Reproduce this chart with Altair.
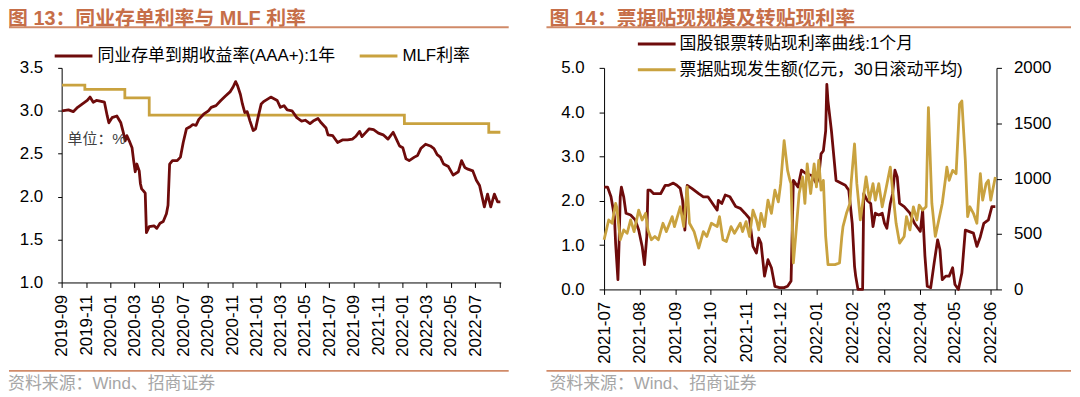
import altair as alt
import pandas as pd

# ---------------- Left panel data (图13) ----------------
ncd_dates = [
    "2019-09-02", "2019-09-18", "2019-09-30", "2019-10-11", "2019-10-23", "2019-11-04", "2019-11-11",
    "2019-11-19", "2019-11-27", "2019-12-09", "2019-12-17", "2019-12-24", "2019-12-28",
    "2020-01-05", "2020-01-17", "2020-01-27", "2020-02-01", "2020-02-07", "2020-02-11", "2020-02-17",
    "2020-02-24", "2020-02-28", "2020-03-03", "2020-03-07", "2020-03-13", "2020-03-16", "2020-03-19",
    "2020-03-23", "2020-03-28", "2020-03-31",
    "2020-04-07", "2020-04-19", "2020-04-26", "2020-05-04", "2020-05-12", "2020-05-20", "2020-05-24",
    "2020-05-28", "2020-06-04", "2020-06-16", "2020-06-24", "2020-07-01", "2020-07-09", "2020-07-17",
    "2020-07-25", "2020-08-02", "2020-08-09", "2020-08-21", "2020-09-02", "2020-09-09", "2020-09-21",
    "2020-10-03", "2020-10-14", "2020-10-26", "2020-11-03", "2020-11-09", "2020-11-14", "2020-11-21",
    "2020-11-26", "2020-12-02", "2020-12-08", "2020-12-15", "2020-12-23", "2020-12-29",
    "2021-01-04", "2021-01-12", "2021-01-19", "2021-02-05", "2021-02-21", "2021-03-01", "2021-03-10",
    "2021-03-18", "2021-03-30", "2021-04-11", "2021-04-23", "2021-05-02", "2021-05-14", "2021-05-22",
    "2021-06-03", "2021-06-11", "2021-06-23", "2021-06-28", "2021-07-10", "2021-07-22", "2021-08-03",
    "2021-08-16", "2021-08-28", "2021-09-05", "2021-09-15", "2021-09-21", "2021-09-29", "2021-10-09",
    "2021-10-20", "2021-11-01", "2021-11-13", "2021-11-25", "2021-12-08", "2021-12-16", "2021-12-24",
    "2022-01-01", "2022-01-09", "2022-01-17", "2022-01-30", "2022-02-07", "2022-02-15", "2022-02-27",
    "2022-03-11", "2022-03-20", "2022-03-28", "2022-04-05", "2022-04-13", "2022-04-25", "2022-05-07",
    "2022-05-20", "2022-05-28", "2022-06-05", "2022-06-13", "2022-06-25", "2022-07-04", "2022-07-12",
    "2022-07-24", "2022-08-01", "2022-08-09", "2022-08-18", "2022-08-26", "2022-09-02",
]
ncd_values = [
    3.00, 3.01, 2.99, 3.04, 3.08, 3.12, 3.16, 3.10, 3.12, 3.11, 3.10, 2.94, 2.86,
    2.92, 2.94, 2.86, 2.77, 2.65, 2.71, 2.65, 2.57, 2.42, 2.29, 2.38, 2.30, 2.15, 2.09, 2.07, 2.04, 1.58,
    1.65, 1.66, 1.63, 1.69, 1.71, 1.80, 1.90, 2.38, 2.42, 2.42, 2.46, 2.63, 2.79, 2.81, 2.84, 2.83, 2.90,
    2.96, 3.00, 3.04, 3.06, 3.12, 3.17, 3.22, 3.28, 3.34, 3.29, 3.19, 3.08, 2.98, 2.99, 2.88, 2.77, 2.79,
    2.92, 3.08, 3.11, 3.16, 3.12, 3.04, 3.06, 3.01, 3.00, 2.92, 2.88, 2.89, 2.85, 2.88, 2.91, 2.86, 2.80,
    2.72, 2.71, 2.63, 2.66, 2.66, 2.67, 2.70, 2.76, 2.70, 2.74, 2.79, 2.78, 2.74, 2.72, 2.67, 2.75, 2.67, 2.59,
    2.57, 2.44, 2.42, 2.46, 2.48, 2.56, 2.61, 2.59, 2.56, 2.49, 2.46, 2.38, 2.35, 2.25, 2.29, 2.42, 2.34,
    2.32, 2.30, 2.19, 2.13, 1.88, 2.03, 1.88, 2.03, 1.94, 1.94,
]
mlf_dates = ["2019-09-02", "2019-10-29", "2020-02-06", "2020-04-07", "2022-01-05", "2022-08-04", "2022-09-02"]
mlf_values = [3.30, 3.25, 3.15, 2.95, 2.85, 2.75, 2.75]
left_ticks = ["2019-09", "2019-11", "2020-01", "2020-03", "2020-05", "2020-07", "2020-09", "2020-11",
              "2021-01", "2021-03", "2021-05", "2021-07", "2021-09", "2021-11", "2022-01", "2022-03",
              "2022-05", "2022-07", "2022-09"]
left_y_ticks = [1.0, 1.5, 2.0, 2.5, 3.0, 3.5]

# ---------------- Right panel data (图14) ----------------
rate_dates = [
    "2021-07-01", "2021-07-04", "2021-07-07", "2021-07-10", "2021-07-11", "2021-07-13", "2021-07-14",
    "2021-07-15", "2021-07-16", "2021-07-18", "2021-07-20", "2021-07-24", "2021-07-28", "2021-07-31",
    "2021-08-03", "2021-08-05", "2021-08-07", "2021-08-08", "2021-08-10", "2021-08-13", "2021-08-19",
    "2021-08-23", "2021-08-26", "2021-08-30", "2021-09-02", "2021-09-05", "2021-09-07", "2021-09-09",
    "2021-09-11", "2021-09-15", "2021-09-21", "2021-09-25", "2021-09-29", "2021-10-04", "2021-10-07",
    "2021-10-08", "2021-10-11", "2021-10-14", "2021-10-18", "2021-10-23", "2021-10-27", "2021-10-31",
    "2021-11-04", "2021-11-07", "2021-11-10", "2021-11-12", "2021-11-14", "2021-11-17", "2021-11-20",
    "2021-11-23", "2021-11-26", "2021-11-30", "2021-12-04", "2021-12-07", "2021-12-10", "2021-12-12",
    "2021-12-16", "2021-12-19", "2021-12-23", "2021-12-28", "2022-01-01", "2022-01-03", "2022-01-05",
    "2022-01-07", "2022-01-09", "2022-01-10", "2022-01-11", "2022-01-14", "2022-01-18", "2022-01-23",
    "2022-01-26", "2022-01-29", "2022-02-01", "2022-02-03", "2022-02-04", "2022-02-06", "2022-02-10",
    "2022-02-11", "2022-02-14", "2022-02-17", "2022-02-19", "2022-02-21", "2022-02-24", "2022-02-27",
    "2022-03-01", "2022-03-03", "2022-03-06", "2022-03-08", "2022-03-10", "2022-03-12", "2022-03-14",
    "2022-03-18", "2022-03-23", "2022-03-27", "2022-03-30", "2022-04-01", "2022-04-03", "2022-04-05",
    "2022-04-07", "2022-04-10", "2022-04-13", "2022-04-16", "2022-04-18", "2022-04-20", "2022-04-23",
    "2022-04-26", "2022-04-29", "2022-05-01", "2022-05-04", "2022-05-07", "2022-05-10", "2022-05-13",
    "2022-05-17", "2022-05-20", "2022-05-23", "2022-05-26", "2022-05-30", "2022-06-02", "2022-06-05",
]
rate_values = [
    2.31, 2.31, 2.09, 1.64, 1.04, 0.22, 1.04, 2.09, 2.31, 2.09, 1.72, 1.68, 1.57, 1.34,
    0.97, 0.56, 1.19, 2.24, 2.24, 2.16, 2.16, 2.35, 2.35, 2.40, 2.35, 2.28, 2.01, 1.34,
    2.35, 2.28, 2.16, 2.09, 2.09, 1.90, 1.79, 2.01, 1.94, 2.13, 2.09, 1.87, 1.83, 1.72,
    1.60, 0.97, 0.82, 1.16, 1.04, 0.30, 0.67, 0.49, 0.07, 0.04, 0.04, 0.07, 0.19, 2.46,
    2.31, 2.69, 2.61, 2.57, 2.39, 2.54, 3.06, 3.13, 3.58, 4.63, 4.25, 3.58, 2.46, 2.39,
    2.35, 2.24, 1.49, 0.52, 0.30, 0.00, 0.00, 2.16, 2.01, 1.94, 1.42, 1.72, 1.68, 1.72,
    1.49, 1.38, 1.94, 2.16, 2.69, 2.54, 1.94, 1.87, 1.72, 1.49, 1.38, 1.31, 1.79, 0.75,
    0.07, 0.04, 0.60, 1.12, 0.90, 0.22, 0.30, 0.30, 0.49, 0.11, 0.00, 0.37, 1.34, 1.31,
    1.27, 0.97, 1.19, 1.49, 1.57, 1.87, 1.87,
]
disc_dates = [
    "2021-07-01", "2021-07-03", "2021-07-05", "2021-07-08", "2021-07-11", "2021-07-12", "2021-07-15",
    "2021-07-18", "2021-07-21", "2021-07-24", "2021-07-27", "2021-07-31", "2021-08-03", "2021-08-06",
    "2021-08-08", "2021-08-11", "2021-08-14", "2021-08-17", "2021-08-21", "2021-08-24", "2021-08-29",
    "2021-08-31", "2021-09-05", "2021-09-08", "2021-09-11", "2021-09-13", "2021-09-17", "2021-09-21",
    "2021-09-25", "2021-09-28", "2021-10-02", "2021-10-07", "2021-10-09", "2021-10-12", "2021-10-15",
    "2021-10-19", "2021-10-22", "2021-10-27", "2021-10-29", "2021-11-01", "2021-11-04", "2021-11-07",
    "2021-11-10", "2021-11-12", "2021-11-14", "2021-11-17", "2021-11-20", "2021-11-23", "2021-11-26",
    "2021-11-29", "2021-12-01", "2021-12-04", "2021-12-07", "2021-12-09", "2021-12-10", "2021-12-12",
    "2021-12-14", "2021-12-17", "2021-12-20", "2021-12-22", "2021-12-24", "2021-12-27", "2021-12-30",
    "2022-01-01", "2022-01-03", "2022-01-05", "2022-01-07", "2022-01-09", "2022-01-11", "2022-01-17",
    "2022-01-21", "2022-01-23", "2022-01-24", "2022-01-27", "2022-01-30", "2022-01-31", "2022-02-03",
    "2022-02-05", "2022-02-08", "2022-02-10", "2022-02-13", "2022-02-16", "2022-02-19", "2022-02-21",
    "2022-02-24", "2022-02-27", "2022-03-02", "2022-03-06", "2022-03-08", "2022-03-11", "2022-03-14",
    "2022-03-18", "2022-03-20", "2022-03-23", "2022-03-26", "2022-03-29", "2022-03-31", "2022-04-03",
    "2022-04-06", "2022-04-08", "2022-04-11", "2022-04-14", "2022-04-17", "2022-04-20", "2022-04-23",
    "2022-04-24", "2022-04-26", "2022-04-29", "2022-05-02", "2022-05-05", "2022-05-07", "2022-05-10",
    "2022-05-12", "2022-05-14", "2022-05-17", "2022-05-20", "2022-05-23", "2022-05-25", "2022-05-28",
    "2022-05-30", "2022-06-01", "2022-06-05",
]
disc_values = [
    448, 537, 627, 597, 776, 740, 448, 537, 507, 627, 522, 716, 627, 687,
    537, 448, 478, 448, 597, 522, 657, 567, 746, 567, 925, 597, 522, 373,
    522, 478, 597, 567, 657, 448, 433, 567, 507, 597, 522, 612, 478, 716,
    627, 537, 687, 567, 806, 687, 896, 791, 955, 1343, 1075, 985, 955, 239,
    478, 866, 1015, 776, 1134, 866, 1134, 925, 1164, 896, 985, 478, 224, 224,
    239, 478, 567, 687, 776, 955, 1313, 955, 627, 776, 1015, 806, 955, 806,
    955, 746, 896, 1104, 896, 597, 418, 478, 657, 537, 746, 627, 761, 716,
    746, 1642, 776, 478, 627, 776, 1015, 1104, 985, 1075, 1045, 1672, 1701, 1164,
    657, 746, 687, 597, 1045, 806, 955, 985, 806, 1015,
]
right_ticks = ["2021-07", "2021-08", "2021-09", "2021-10", "2021-11", "2021-12",
               "2022-01", "2022-02", "2022-03", "2022-04", "2022-05", "2022-06"]
rate_ticks = [0, 1, 2, 3, 4, 5]
disc_ticks = [0, 500, 1000, 1500, 2000]

# ---------------- styling ----------------
DARK = "#6E0B0B"
GOLD = "#C9A23F"
ORANGE = "#C66E48"
RULE = "#D08A68"
FONT = "Liberation Sans, Noto Sans CJK SC, sans-serif"
LW = 2.8

one = pd.DataFrame({"k": [0]})


def dt(s):
    return alt.DateTime(year=int(s[:4]), month=int(s[5:7]), date=int(s[8:10]) if len(s) > 7 else 1)


def text_layer(txt, x, y, size, color, weight="normal", baseline="middle"):
    return alt.Chart(one).mark_text(
        text=txt, align="left", baseline=baseline, fontSize=size, font=FONT,
        color=color, fontWeight=weight
    ).encode(x=alt.value(x), y=alt.value(y))


def rule_layer(x1, x2, y, color, width):
    return alt.Chart(one).mark_rule(color=color, strokeWidth=width).encode(
        x=alt.value(x1), x2=alt.value(x2), y=alt.value(y))


# ---------------- Left panel ----------------
ncd_df = pd.DataFrame({"date": pd.to_datetime(ncd_dates), "rate": ncd_values})
mlf_df = pd.DataFrame({"date": pd.to_datetime(mlf_dates), "rate": mlf_values})

lx = alt.X("date:T",
           scale=alt.Scale(domain=[dt("2019-09-01"), dt("2022-09-03")]),
           axis=alt.Axis(values=[dt(t) for t in left_ticks], format="%Y-%m", labelAngle=-90,
                         title=None, tickSize=5, labelPadding=7, labelOverlap=False,
                         labelExpr="datum.label == '2022-09' ? '' : datum.label"))
ly = alt.Y("rate:Q", scale=alt.Scale(domain=[1.0, 3.5], nice=False, zero=False),
           axis=alt.Axis(values=left_y_ticks, format=".1f", title=None, tickSize=4, labelPadding=15))

mlf_line = alt.Chart(mlf_df).mark_line(color=GOLD, strokeWidth=LW, interpolate="step-after").encode(x=lx, y=ly)
ncd_line = alt.Chart(ncd_df).mark_line(color=DARK, strokeWidth=LW, strokeJoin="round").encode(x=lx, y=ly)

left = alt.layer(
    mlf_line, ncd_line,
    text_layer("图 13：同业存单利率与 MLF 利率", -54, -59, 20, ORANGE, "bold", "top"),
    rule_layer(-53, 450, -41, RULE, 2),
    rule_layer(-7, 31, -12, DARK, 3),
    text_layer("同业存单到期收益率(AAA+):1年", 36, -12, 17, "#000"),
    rule_layer(300, 338, -12, GOLD, 3),
    text_layer("MLF利率", 343, -12, 17, "#000"),
    text_layer("单位：%", 6, 72, 15, "#404040"),
    rule_layer(-53, 450, 305, RULE, 2),
    text_layer("资料来源：Wind、招商证券", -54, 318, 17, "#A6A6A6"),
).properties(width=442, height=216)

# ---------------- Right panel ----------------
rate_df = pd.DataFrame({"date": pd.to_datetime(rate_dates), "rate": rate_values})
disc_df = pd.DataFrame({"date": pd.to_datetime(disc_dates), "amount": disc_values})

rx = alt.X("date:T",
           scale=alt.Scale(domain=[dt("2021-07-01"), dt("2022-06-06")]),
           axis=alt.Axis(values=[dt(t) for t in right_ticks], format="%Y-%m", labelAngle=-90,
                         title=None, tickSize=5, labelPadding=7, labelOverlap=False))
rate_line = alt.Chart(rate_df).mark_line(color=DARK, strokeWidth=LW, strokeJoin="round").encode(
    x=rx,
    y=alt.Y("rate:Q", scale=alt.Scale(domain=[0, 5], nice=False),
            axis=alt.Axis(orient="left", values=rate_ticks, format=".1f", title=None,
                          tickSize=5, labelPadding=15)))
disc_line = alt.Chart(disc_df).mark_line(color=GOLD, strokeWidth=LW, strokeJoin="round").encode(
    x=rx,
    y=alt.Y("amount:Q", scale=alt.Scale(domain=[0, 2000], nice=False),
            axis=alt.Axis(orient="right", values=disc_ticks, format="d", title=None,
                          tickSize=5, labelPadding=12)))

right = alt.layer(
    rate_line, disc_line,
    text_layer("图 14：票据贴现规模及转贴现利率", -55, -59, 20, ORANGE, "bold", "top"),
    rule_layer(-58, 470, -41, RULE, 2),
    rule_layer(34, 72, -24, DARK, 3),
    text_layer("国股银票转贴现利率曲线:1个月", 76, -24, 17, "#000"),
    rule_layer(34, 72, 2, GOLD, 3),
    text_layer("票据贴现发生额(亿元，30日滚动平均)", 76, 2, 17, "#000"),
    rule_layer(-58, 470, 305, RULE, 2),
    text_layer("资料来源：Wind、招商证券", -55, 318, 17, "#A6A6A6"),
).resolve_scale(y="independent").properties(width=395, height=223)

chart = alt.hconcat(left, right, spacing=104, bounds="flush", padding=0).configure_view(
    stroke=None
).configure_axis(
    labelFont="Liberation Sans", labelFontSize=17, labelColor="#000",
    domainColor="#000", tickColor="#000", grid=False, domainWidth=1, tickWidth=1,
)

chart.save("out.html", embed_options={"renderer": "svg", "actions": False})
